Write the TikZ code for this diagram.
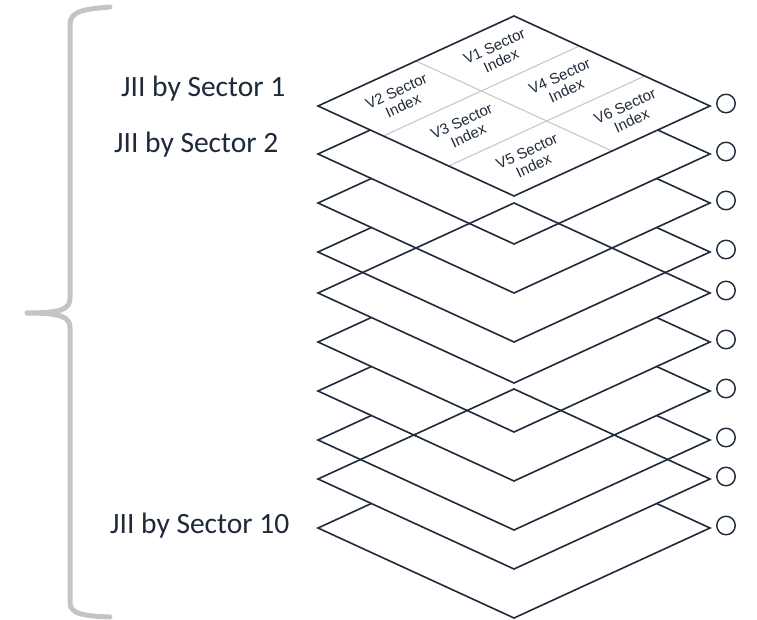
\documentclass[tikz,border=0pt]{standalone}
\usepackage{fontspec}
\setmainfont{Carlito}
\newfontfamily\sectorfont{Liberation Sans}
\usetikzlibrary{positioning}
\definecolor{ink}{HTML}{1E2A3A}
\definecolor{gridgray}{HTML}{C8C8C8}
\definecolor{bracegray}{HTML}{C4C4C4}
\tikzset{
    layer/.style={draw=ink, line width=1.6pt, line join=miter},
    sectorline/.style={draw=gridgray, line width=1.1pt},
    sectorlabel/.style={font=\sectorfont\fontsize{15}{16}\selectfont, text=ink, align=center, rotate=24.66, inner sep=0pt},
    layerlabel/.style={font=\fontsize{29.5}{32}\selectfont, text=ink, anchor=base west, inner sep=0pt},
    knob/.style={circle, draw=ink, line width=1.4pt, minimum size=18.5pt, inner sep=0pt},
    bracket/.style={draw=bracegray, line width=5pt, line cap=round, line join=round}
    }
\begin{document}
\begin{tikzpicture}[x=1pt,y=-1pt]
        \useasboundingbox (0,0) rectangle (757,620);
        % sector grid on the first layer
        \draw[sectorline] (416,61) -- (612,151);
        \draw[sectorline] (383.3,136) -- (579.3,46);
        \draw[sectorline] (448.7,166) -- (644.7,76);
        % layers that show whole
        \foreach \L in {106,293,479}
            \draw[layer] (318,\L) -- (514,\L-90) -- (710,\L) -- (514,\L+90) -- cycle;
        % layers half hidden by the one above
        \foreach \L/\P in {154/106,203/154,252/203,342/293,391/342,440/391,528/479}
            \draw[layer] (318+\L*1.0889-\P*1.0889,\L/2+\P/2) -- (318,\L) -- (514,\L+90) -- (710,\L) -- (710-\L*1.0889+\P*1.0889,\L/2+\P/2);
        % knobs
        \foreach \L [count=\i] in {106,154,203,252,293,342,391,440,479,528}
            \node[knob] (knob\i) at (726,\L-2.5) {};
        % sector labels
        \node[sectorlabel] (v1) at (497.7,53.5) {V1 Sector\\Index};
        \node[sectorlabel] (v2) at (399.7,98.5) {V2 Sector\\Index};
        \node[sectorlabel] (v3) at (465,128.5) {V3 Sector\\Index};
        \node[sectorlabel] (v4) at (563,83.5) {V4 Sector\\Index};
        \node[sectorlabel] (v5) at (530.3,158.5) {V5 Sector\\Index};
        \node[sectorlabel] (v6) at (628.3,113.5) {V6 Sector\\Index};
        % layer labels
        \node[layerlabel] (jii1) at (121,97) {JII by Sector 1};
        \node[layerlabel] (jii2) at (114,153) {JII by Sector 2};
        \node[layerlabel] (jii10) at (110,533) {JII by Sector 10};
        % brace
        \draw[bracket] (110,7) .. controls (88,9) and (70,10) .. (70,24) -- (70,298)
            .. controls (70,309) and (62,313) .. (27,313)
            .. controls (62,313) and (70,317) .. (70,328) -- (70,603)
            .. controls (70,615) and (88,616) .. (110,617);
    \end{tikzpicture}
\end{document}
